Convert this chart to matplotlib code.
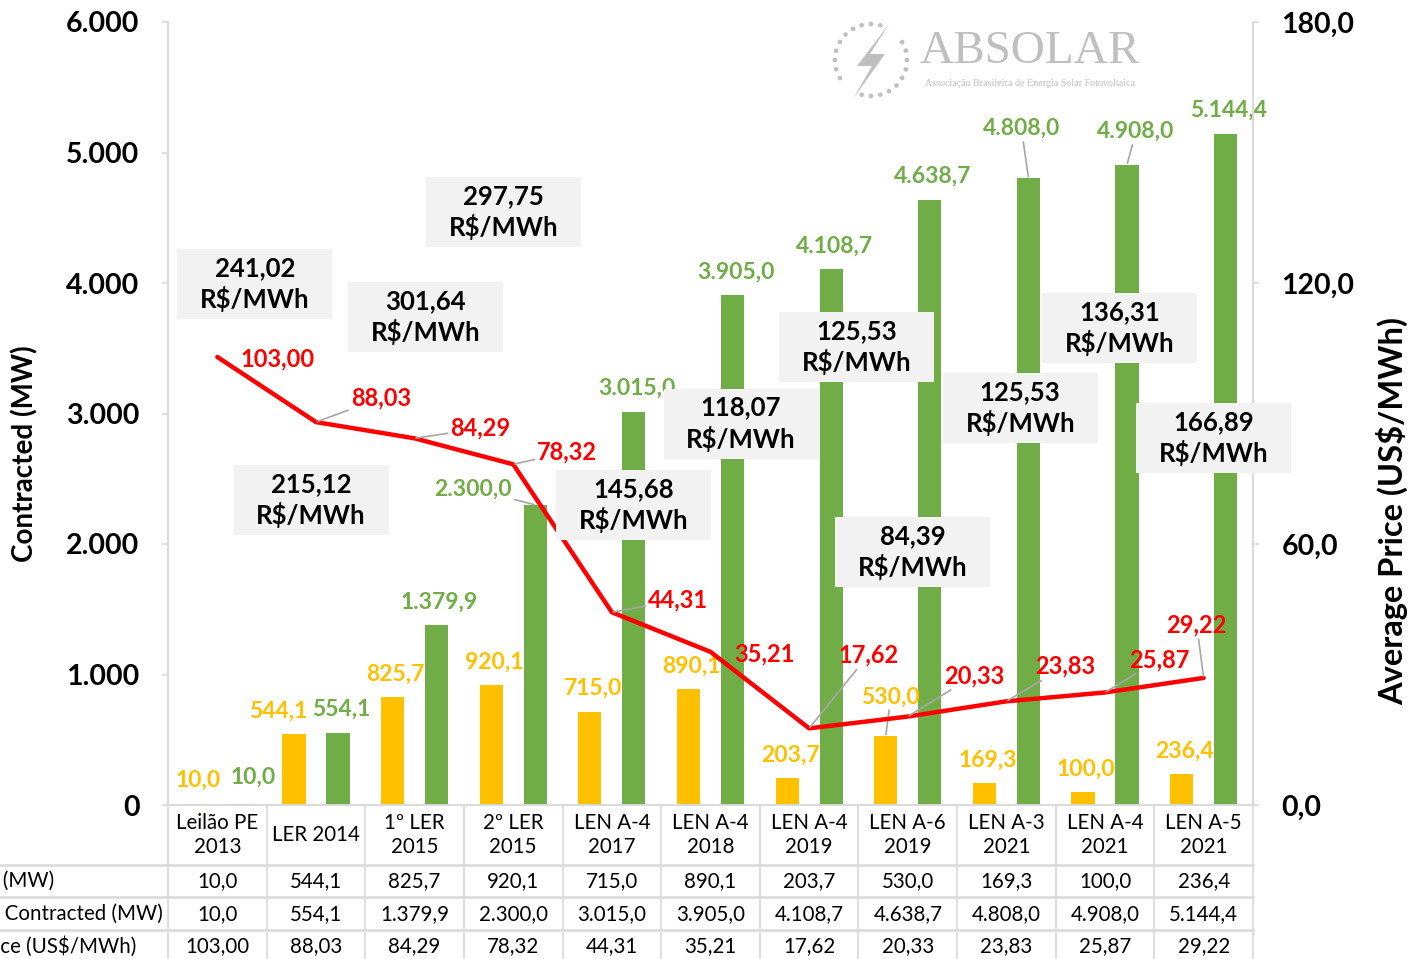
import numpy as np
import matplotlib.pyplot as plt
from matplotlib.patches import Rectangle, Polygon, Circle
from matplotlib.lines import Line2D

plt.rcParams['font.family'] = ['Lato', 'DejaVu Sans']

# ---------------- data ----------------
auctions = ["Leilão PE\n2013", "LER 2014", "1º LER\n2015", "2º LER\n2015", "LEN A-4\n2017",
            "LEN A-4\n2018", "LEN A-4\n2019", "LEN A-6\n2019", "LEN A-3\n2021",
            "LEN A-4\n2021", "LEN A-5\n2021"]
contracted = [10.0, 544.1, 825.7, 920.1, 715.0, 890.1, 203.7, 530.0, 169.3, 100.0, 236.4]
accumulated = [10.0, 554.1, 1379.9, 2300.0, 3015.0, 3905.0, 4108.7, 4638.7, 4808.0, 4908.0, 5144.4]
price_usd = [103.00, 88.03, 84.29, 78.32, 44.31, 35.21, 17.62, 20.33, 23.83, 25.87, 29.22]
price_brl = ["241,02", "297,75", "301,64", "215,12", "145,68", "118,07",
             "125,53", "84,39", "125,53", "136,31", "166,89"]
row_labels = ["Contracted (MW)", "Accumulated Contracted (MW)", "Average Price (US$/MWh)"]

YELLOW = "#FFC000"
GREEN = "#70AD47"
RED = "#FF0000"
GRID = "#D9D9D9"
LEAD = "#A6A6A6"


def br(v, dec):
    s = f"{v:,.{dec}f}"
    return s.replace(",", "X").replace(".", ",").replace("X", ".")


W, H = 1411, 959
fig = plt.figure(figsize=(W / 100, H / 100), dpi=100)
L, R, T, B = 168, 1253, 22, 805
ax = fig.add_axes([L / W, (H - B) / H, (R - L) / W, (B - T) / H])
ax.patch.set_visible(False)
ax2 = ax.twinx()

n = len(auctions)
x = np.arange(n)
bw = 0.235
off = 0.223

ax.bar(x - off, contracted, bw, color=YELLOW, zorder=2)
ax.bar(x + off, accumulated, bw, color=GREEN, zorder=2)
ax.set_xlim(-0.5, n - 0.5)
ax.set_ylim(0, 6000)
ax.set_yticks(range(0, 6001, 1000))
ax.set_yticklabels([br(v, 0) for v in range(0, 6001, 1000)])
ax.set_xticks([])

ax2.plot(x, price_usd, color=RED, lw=3.2, zorder=3, solid_capstyle='round')
ax2.set_ylim(0, 180)
ax2.set_yticks([0, 60, 120, 180])
ax2.set_yticklabels([br(v, 1) for v in [0, 60, 120, 180]])

for a in (ax, ax2):
    for s in a.spines.values():
        s.set_color(GRID)
        s.set_linewidth(1.2)
    a.spines['top'].set_visible(False)
    a.tick_params(axis='y', colors=GRID, length=4.5, width=1.2, labelsize=20.5, pad=16)
    for lab in a.get_yticklabels():
        lab.set_color('black')
        lab.set_fontweight('bold')
ax2.set_zorder(ax.get_zorder() + 1)
ax2.patch.set_visible(False)

fig.text(25 / W, (H - 454) / H, "Contracted (MW)", rotation=90, ha='center', va='center',
         fontsize=20, fontweight='bold')
fig.text(1392 / W, (H - 511) / H, "Average Price (US$/MWh)", rotation=90, ha='center',
         va='center', fontsize=23.5, fontweight='bold')

# ---------------- bar labels ----------------
y_off = [(3, 23)] * n
y_off[1] = (-16, 23)
y_off[7] = (5, 39)
y_lead = {7}
g_off = [(3, 23)] * n
g_off[0] = (14, 26)
g_off[3] = (-62, 16)
g_off[8] = (-7, 49)
g_off[9] = (9, 33)
g_lead = {3, 8, 9}

for i in range(n):
    kw = dict(textcoords='offset pixels', ha='center', va='center', fontsize=16.5,
              fontweight='bold', zorder=4)
    ap = dict(arrowstyle='-', color=LEAD, lw=1.2, shrinkA=0, shrinkB=1)
    ax.annotate(br(contracted[i], 1), (x[i] - off, contracted[i]), xytext=y_off[i], color=YELLOW,
                arrowprops=ap if i in y_lead else None, **kw)
    ax.annotate(br(accumulated[i], 1), (x[i] + off, accumulated[i]), xytext=g_off[i], color=GREEN,
                arrowprops=ap if i in g_lead else None, **kw)

# ---------------- price labels ----------------
p_off = [(60, -2), (65, 24), (66, 10), (54, 12), (66, 12), (54, -2),
         (59, 73), (66, 41), (59, 35), (54, 33), (-7, 53)]
p_lead = {1, 2, 3, 4, 6, 7, 8, 9, 10}
for i in range(n):
    ap = dict(arrowstyle='-', color=LEAD, lw=1.2, shrinkA=0, shrinkB=1)
    ax2.annotate(br(price_usd[i], 2), (x[i], price_usd[i]), xytext=p_off[i],
                 textcoords='offset pixels', ha='center', va='center', fontsize=17,
                 fontweight='bold', color=RED, zorder=5,
                 arrowprops=ap if i in p_lead else None)

# ---------------- R$/MWh boxes ----------------
box_pos = [(0.38, 3992), (2.90, 4544), (2.11, 3739), (0.95, 2337), (4.22, 2299), (5.31, 2920),
           (6.48, 3510), (7.05, 1939), (8.14, 3042), (9.15, 3655), (10.10, 2812)]
bx_w, bx_h = 155 / 98.64, 70 / 0.1305
for (cx, cy), val in zip(box_pos, price_brl):
    ax2.add_patch(Rectangle((cx - bx_w / 2, (cy - bx_h / 2) * 0.03), bx_w, bx_h * 0.03,
                            fc="#F2F2F2", ec='none', zorder=6, clip_on=False))
    ax2.text(cx, cy * 0.03, f"{val}\nR$/MWh", ha='center', va='center', fontsize=18.5,
             fontweight='bold', linespacing=1.3, zorder=7, clip_on=False)

# ---------------- data table ----------------
tr = ax.get_xaxis_transform()


def yf(py):
    return (B - py) / (B - T)


for i in range(n):
    ax.text(x[i], yf(835), auctions[i], transform=tr, ha='center', va='center', fontsize=14.8,
            linespacing=1.3, clip_on=False)
    ax.text(x[i], yf(881), br(contracted[i], 1), transform=tr, ha='center', va='center',
            fontsize=14.8, clip_on=False)
    ax.text(x[i], yf(914), br(accumulated[i], 1), transform=tr, ha='center', va='center',
            fontsize=14.8, clip_on=False)
    ax.text(x[i], yf(946), br(price_usd[i], 2), transform=tr, ha='center', va='center',
            fontsize=14.8, clip_on=False)

for k in range(n + 1):
    ax.plot([k - 0.5, k - 0.5], [yf(805), yf(960)], transform=tr, color=GRID, lw=1.2,
            clip_on=False)
for py in (865, 897, 930):
    fig.add_artist(Line2D([0, R / W], [(H - py) / H] * 2, color=GRID, lw=1.8))

for lab, py, pxr in zip(row_labels, (881, 914, 946), (54, 163, 136)):
    fig.text(pxr / W, (H - py) / H, lab, ha='right', va='center', fontsize=14.8)

# ---------------- logo ----------------
lg = fig.add_axes([0, 0, 1, 1], zorder=-1)
lg.set_xlim(0, W)
lg.set_ylim(H, 0)
lg.axis('off')
logo_c = "#BFBFBF"
for a in np.linspace(0, 2 * np.pi, 24, endpoint=False):
    d = np.degrees(a) % 360
    if 40 < d < 70 or 220 < d < 250:
        continue
    lg.add_patch(Circle((871 + 36 * np.cos(a), 60 - 36 * np.sin(a)), 2.3, color=logo_c, lw=0))
lg.add_patch(Polygon([(889, 24), (857, 66), (872, 66), (853, 99), (885, 54), (870, 54)],
                     closed=True, color=logo_c, lw=0))
lg.text(1030, 52, "ABSOLAR", ha='center', va='center', fontsize=34, color=logo_c,
        family='Liberation Serif')
lg.text(1030, 83, "Associação Brasileira de Energia Solar Fotovoltaica", ha='center',
        va='center', fontsize=7.2, color=logo_c, family='Liberation Serif')

fig.savefig("out.png", dpi=100)
